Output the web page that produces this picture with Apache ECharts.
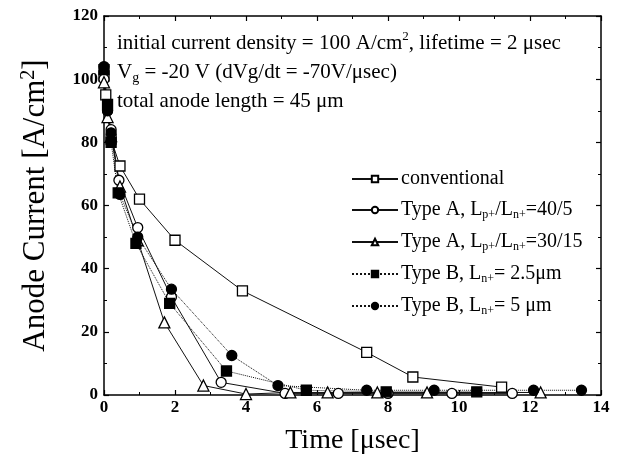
<!DOCTYPE html>
<html>
<head>
<meta charset="utf-8">
<script src="https://cdn.jsdelivr.net/npm/echarts@6/dist/echarts.min.js"></script>
<style>
  html, body { margin: 0; padding: 0; background: #fff; }
  #chart { width: 625px; height: 462px; }
</style>
</head>
<body>
<div id="chart"></div>
<script>
// [time (usec), anode current (A/cm2)]
const conventional = [[0, 101], [0.05, 95], [0.2, 81], [0.45, 72.5], [1.0, 62], [2.0, 49], [3.9, 33], [7.4, 13.5], [8.7, 5.7], [11.2, 2.5]];
const typeA40 = [[0, 100], [0.1, 90], [0.2, 84], [0.42, 68], [0.95, 53], [1.9, 31], [3.3, 4], [5.1, 0.5], [6.6, 0.5], [8.0, 0.5], [9.8, 0.5], [11.5, 0.5]];
const typeA30 = [[0, 99], [0.1, 88], [0.2, 82], [0.45, 66], [0.95, 49], [1.7, 23], [2.8, 3], [4.0, 0.3], [5.25, 0.8], [6.3, 0.8], [7.7, 0.8], [9.1, 0.8], [12.3, 0.8]];
const typeB25 = [[0, 103], [0.1, 92], [0.2, 80], [0.4, 64], [0.9, 48], [1.85, 29], [3.45, 7.6], [5.7, 1.5], [7.95, 1], [10.5, 1]];
const typeB5 = [[0, 104], [0.1, 90], [0.2, 83], [0.45, 63.5], [0.95, 50], [1.9, 33.5], [3.6, 12.5], [4.9, 3], [7.4, 1.5], [9.3, 1.5], [12.1, 1.5], [13.45, 1.5]];

const seriesNames = ['conventional', 'Type A, Lp+/Ln+=40/5', 'Type A, Lp+/Ln+=30/15', 'Type B, Ln+= 2.5\u03bcm', 'Type B, Ln+= 5 \u03bcm'];
const legendLabels = [
  '{t|conventional}',
  '{t|Type A, L}{s|p+}{t|/L}{s|n+}{t|=40/5}',
  '{t|Type A, L}{s|p+}{t|/L}{s|n+}{t|=30/15}',
  '{t|Type B, L}{s|n+}{t|= 2.5\u03bcm}',
  '{t|Type B, L}{s|n+}{t|= 5 \u03bcm}'
];
const xTicks = [0, 2, 4, 6, 8, 10, 12, 14];
const yTicks = [0, 20, 40, 60, 80, 100, 120];

const font = 'Liberation Serif';
const chart = echarts.init(document.getElementById('chart'));

function makeSeries(name, data, symbol, filled, dotted) {
  return {
    name: name,
    type: 'line',
    data: data,
    symbol: symbol,
    symbolSize: symbol === 'triangle' ? 11 : 10,
    showAllSymbol: true,
    lineStyle: { color: '#111', width: 1, type: dotted ? 'dotted' : 'solid' },
    itemStyle: { color: filled ? '#000' : '#fff', borderColor: '#000', borderWidth: 1.3 },
    emphasis: { disabled: true },
    z: 3
  };
}

const axisCommon = {
  min: 0,
  axisLine: { show: true, onZero: false, lineStyle: { color: '#000', width: 1.5 } },
  axisTick: { show: true, inside: true, length: 5, lineStyle: { color: '#000', width: 1.2 } },
  minorTick: { show: true, splitNumber: 2, length: 3, lineStyle: { color: '#000', width: 1 } },
  splitLine: { show: false }
};

const option = {
  backgroundColor: '#fff',
  animation: false,
  grid: { left: 104, right: 24, top: 16, bottom: 67 },
  xAxis: [
    Object.assign({}, axisCommon, {
      type: 'value', max: 14, interval: 2, position: 'bottom',
      name: 'Time [\u03bcsec]', nameLocation: 'middle', nameGap: 32,
      nameTextStyle: { fontFamily: font, fontSize: 28, color: '#000' },
      axisLabel: { fontFamily: font, fontSize: 17, fontWeight: 'bold', color: '#000', margin: 4,
        formatter: v => xTicks.includes(v) ? String(v) : '' }
    }),
    Object.assign({}, axisCommon, {
      type: 'value', max: 14, interval: 2, position: 'top', axisLabel: { show: false }
    })
  ],
  yAxis: [
    Object.assign({}, axisCommon, {
      type: 'value', max: 120, interval: 20, position: 'left',
      name: 'Anode Current [A/cm{sup|2}]', nameLocation: 'middle', nameGap: 52,
      nameTextStyle: { fontFamily: font, fontSize: 31, color: '#000',
        rich: { sup: { fontFamily: font, fontSize: 20, padding: [0, 0, 13, 0], color: '#000' } } },
      axisLabel: { fontFamily: font, fontSize: 17, fontWeight: 'bold', color: '#000', margin: 6,
        formatter: v => yTicks.includes(v) ? String(v) : '' }
    }),
    Object.assign({}, axisCommon, {
      type: 'value', max: 120, interval: 20, position: 'right', axisLabel: { show: false }
    })
  ],
  legend: {
    orient: 'vertical',
    left: 346,
    top: 164,
    itemWidth: 46,
    itemHeight: 8,
    itemGap: 11,
    data: seriesNames,
    formatter: name => legendLabels[seriesNames.indexOf(name)],
    textStyle: {
      padding: [0, 0, 0, -2],
      rich: {
        t: { fontFamily: font, fontSize: 20, color: '#000' },
        s: { fontFamily: font, fontSize: 12, color: '#000', padding: [10, 0, 0, 0] }
      }
    }
  },
  graphic: [
    {
      type: 'text', left: 117, top: 30,
      style: {
        text: '{t|initial current density = 100 A/cm}{p|2}{t|, lifetime = 2 \u03bcsec}\n{t|V}{b|g}{t| = -20 V (dVg/dt = -70V/\u03bcsec)}\n{t|total anode length = 45 \u03bcm}',
        rich: {
          t: { fontFamily: font, fontSize: 21, fill: '#000', lineHeight: 29 },
          p: { fontFamily: font, fontSize: 13, fill: '#000', padding: [0, 0, 13, 0], lineHeight: 29 },
          b: { fontFamily: font, fontSize: 14, fill: '#000', padding: [13, 0, 0, 0], lineHeight: 29 }
        }
      }
    }
  ],
  series: [
    makeSeries(seriesNames[0], conventional, 'rect', false, false),
    makeSeries(seriesNames[1], typeA40, 'circle', false, false),
    makeSeries(seriesNames[2], typeA30, 'triangle', false, false),
    makeSeries(seriesNames[3], typeB25, 'rect', true, true),
    makeSeries(seriesNames[4], typeB5, 'circle', true, true)
  ]
};

chart.setOption(option);
</script>
</body>
</html>
